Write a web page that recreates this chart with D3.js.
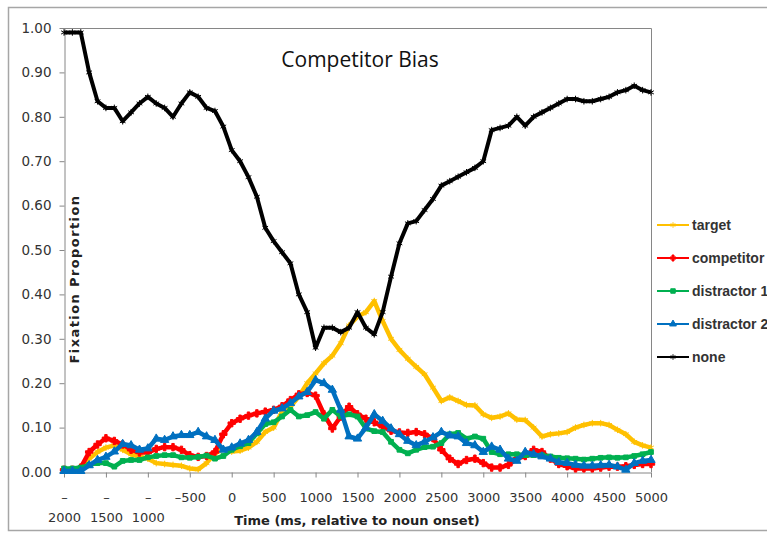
<!DOCTYPE html>
<html>
<head>
<meta charset="utf-8">
<script src="https://cdn.jsdelivr.net/npm/d3@7"></script>
<style>
body { margin: 0; background: #fff; }
svg { display: block; }
.axis text { font-family: "DejaVu Sans", Verdana, sans-serif; font-size: 13px; fill: #333; }
.axis path, .axis line { stroke: #868686; }
</style>
</head>
<body>
<svg id="chart" width="767" height="533"></svg>
<script>
// time axis, ms relative to noun onset
var times = [-2000,-1900,-1800,-1700,-1600,-1500,-1400,-1300,-1200,-1100,-1000,-900,-800,-700,-600,-500,-400,-300,-200,-100,
  0,100,200,300,400,500,600,700,800,900,1000,1100,1200,1300,1400,1500,1600,1700,1800,1900,
  2000,2100,2200,2300,2400,2500,2600,2700,2800,2900,3000,3100,3200,3300,3400,3500,3600,3700,3800,3900,
  4000,4100,4200,4300,4400,4500,4600,4700,4800,4900,5000];

var target = [0.005,0.005,0.008,0.03,0.045,0.055,0.06,0.05,0.04,0.035,0.03,0.02,0.018,0.016,0.014,0.008,0.006,0.02,0.042,0.052,
  0.046,0.048,0.055,0.068,0.09,0.1,0.136,0.147,0.17,0.2,0.222,0.245,0.262,0.29,0.33,0.35,0.36,0.385,0.34,0.3,
  0.275,0.255,0.237,0.22,0.19,0.16,0.168,0.16,0.151,0.15,0.13,0.122,0.125,0.132,0.118,0.117,0.1,0.08,0.085,0.087,
  0.09,0.1,0.106,0.11,0.11,0.106,0.095,0.085,0.068,0.06,0.055];

var competitor = [0.005,0.005,0.01,0.045,0.062,0.076,0.07,0.062,0.05,0.044,0.044,0.052,0.056,0.056,0.05,0.038,0.034,0.036,0.045,0.085,
  0.11,0.12,0.127,0.132,0.136,0.14,0.148,0.162,0.175,0.178,0.172,0.13,0.098,0.125,0.147,0.13,0.12,0.112,0.102,0.093,
  0.089,0.088,0.09,0.085,0.076,0.05,0.03,0.018,0.027,0.03,0.02,0.01,0.01,0.016,0.03,0.036,0.05,0.045,0.03,0.018,
  0.013,0.008,0.008,0.008,0.01,0.012,0.012,0.013,0.016,0.018,0.018];

var distractor1 = [0.008,0.008,0.01,0.016,0.02,0.02,0.012,0.025,0.027,0.027,0.033,0.036,0.038,0.038,0.033,0.032,0.034,0.037,0.03,0.036,
  0.05,0.058,0.065,0.087,0.108,0.112,0.125,0.14,0.125,0.128,0.135,0.12,0.14,0.125,0.13,0.125,0.098,0.092,0.09,0.068,
  0.05,0.042,0.05,0.056,0.057,0.065,0.085,0.088,0.075,0.08,0.075,0.045,0.04,0.04,0.04,0.038,0.038,0.038,0.035,0.032,
  0.031,0.03,0.028,0.03,0.032,0.033,0.032,0.033,0.036,0.04,0.045];

var distractor2 = [0.002,0.002,0.002,0.015,0.027,0.034,0.046,0.063,0.06,0.05,0.053,0.075,0.072,0.08,0.083,0.083,0.09,0.08,0.072,0.05,
  0.055,0.064,0.072,0.09,0.12,0.138,0.143,0.155,0.17,0.18,0.207,0.2,0.185,0.14,0.08,0.075,0.1,0.13,0.115,0.098,
  0.085,0.07,0.06,0.068,0.078,0.09,0.082,0.08,0.065,0.06,0.045,0.057,0.05,0.03,0.025,0.045,0.04,0.035,0.03,0.022,
  0.02,0.016,0.014,0.014,0.015,0.016,0.012,0.005,0.02,0.025,0.027];

var none = [0.99,0.99,0.99,0.9,0.835,0.82,0.82,0.79,0.81,0.83,0.845,0.83,0.82,0.8,0.83,0.855,0.845,0.82,0.813,0.778,
  0.725,0.7,0.664,0.62,0.55,0.52,0.495,0.47,0.4,0.36,0.28,0.325,0.325,0.315,0.325,0.36,0.325,0.31,0.36,0.44,
  0.515,0.56,0.565,0.59,0.615,0.645,0.655,0.665,0.675,0.685,0.7,0.77,0.775,0.78,0.8,0.78,0.8,0.81,0.82,0.83,
  0.84,0.84,0.835,0.835,0.84,0.845,0.855,0.86,0.87,0.86,0.855];

var seriesNames = ["target", "competitor", "distractor 1", "distractor 2", "none"];
var seriesColors = ["#FFC000", "#FF0000", "#00B050", "#0070C0", "#000000"];
var seriesValues = [target, competitor, distractor1, distractor2, none];
var seriesSymbols = [d3.symbolAsterisk, d3.symbolCross, d3.symbolSquare, d3.symbolTriangle, d3.symbolAsterisk];

var xTicks = [-2000,-1500,-1000,-500,0,500,1000,1500,2000,2500,3000,3500,4000,4500,5000];
var yTicks = [0,0.1,0.2,0.3,0.4,0.5,0.6,0.7,0.8,0.9,1.0];

var svg = d3.select("#chart");
// plot box (window.top is read-only, so no plain "top" here)
var pLeft = 64, pRight = 651, pTop = 28, pBottom = 472;

var x = d3.scaleLinear().domain([-2000, 5000]).range([pLeft, pRight]);
var y = d3.scaleLinear().domain([0, 1]).range([pBottom, pTop]);

// outer frame
svg.append("rect")
    .attr("x", 8.5).attr("y", 7.5)
    .attr("width", 800).attr("height", 523)
    .attr("fill", "none")
    .attr("stroke", "#a6a6a6")
    .attr("stroke-width", 1.5);

// plot area top and right border
svg.append("path")
    .attr("d", "M" + pLeft + "," + (pTop + 0.5) + "H" + (pRight + 0.5) + "V" + pBottom)
    .attr("fill", "none")
    .attr("stroke", "#868686");

// y axis
var yAxis = svg.append("g")
    .attr("class", "axis")
    .attr("transform", "translate(" + (pLeft + 0.5) + ",0)")
    .call(d3.axisLeft(y).tickValues(yTicks).tickFormat(d3.format(".2f")).tickSize(5).tickSizeOuter(0));
yAxis.selectAll("text").attr("x", -13).style("font-size", "13.5px");

// x axis
var xAxis = svg.append("g")
    .attr("class", "axis")
    .attr("transform", "translate(0," + (pBottom + 0.5) + ")")
    .call(d3.axisBottom(x).tickValues(xTicks).tickSize(5).tickSizeOuter(0).tickFormat(""));

xAxis.selectAll(".tick").each(function(d){
    var t = d3.select(this).append("text")
        .attr("fill", "#333")
        .attr("text-anchor", "middle")
        .attr("y", 29);
    if (d <= -1000) {
	// long negative labels wrap onto two lines
	t.append("tspan").attr("x", 0).text("\u2013");
	t.append("tspan").attr("x", 0).attr("dy", 20).text(String(-d));
    } else {
	t.text(d < 0 ? "\u2013" + (-d) : String(d));
    }
});

// axis titles
svg.append("text")
    .attr("x", 357).attr("y", 525)
    .attr("text-anchor", "middle")
    .style("font-family", "'DejaVu Sans', Verdana, sans-serif")
    .style("font-size", "13px")
    .style("font-weight", "bold")
    .style("fill", "#222")
    .text("Time (ms, relative to noun onset)");

svg.append("text")
    .attr("transform", "translate(79,279) rotate(-90)")
    .attr("text-anchor", "middle")
    .style("font-family", "'DejaVu Sans', Verdana, sans-serif")
    .style("font-size", "13px")
    .style("font-weight", "bold")
    .style("letter-spacing", "1.4px")
    .style("fill", "#222")
    .text("Fixation Proportion");

// chart title
svg.append("text")
    .attr("x", 360).attr("y", 67)
    .attr("text-anchor", "middle")
    .style("font-family", "'Open Sans', sans-serif")
    .style("font-size", "21px")
    .style("fill", "#111")
    .text("Competitor Bias");

// series
var line = d3.line()
    .x(function(d){ return x(d[0]); })
    .y(function(d){ return y(d[1]); });

seriesValues.forEach(function(vals, i){
    var pts = times.map(function(t, j){ return [t, vals[j]]; });
    var g = svg.append("g").attr("class", "series");
    g.append("path")
	.datum(pts)
	.attr("d", line)
	.attr("fill", "none")
	.attr("stroke", seriesColors[i])
	.attr("stroke-width", i == 4 ? 4 : 4.5)
	.attr("stroke-linejoin", "round");
    // small markers only roughen the line, as in the original
    g.selectAll(".mk")
	.data(pts)
	.enter().append("path")
	.attr("class", "mk")
	.attr("transform", function(d){ return "translate(" + x(d[0]) + "," + y(d[1]) + ")"; })
	.attr("d", d3.symbol().type(seriesSymbols[i]).size(i == 2 ? 22 : 30))
	.attr("fill", seriesColors[i])
	.attr("stroke", seriesColors[i])
	.attr("stroke-width", 1);
});

// legend
var legend = svg.append("g").attr("transform", "translate(657,225)");
seriesNames.forEach(function(name, i){
    var row = legend.append("g").attr("transform", "translate(0," + (i * 33) + ")");
    row.append("line")
	.attr("x1", 0).attr("x2", 32)
	.attr("stroke", seriesColors[i])
	.attr("stroke-width", 2);
    row.append("path")
	.attr("transform", "translate(16,0)")
	.attr("d", d3.symbol().type(seriesSymbols[i]).size(20))
	.attr("fill", seriesColors[i])
	.attr("stroke", seriesColors[i]);
    row.append("text")
	.attr("x", 35).attr("y", 5)
	.style("font-family", "'Liberation Sans', Arial, sans-serif")
	.style("font-size", "14px")
	.style("font-weight", "bold")
	.style("fill", "#333")
	.text(name);
});
</script>
</body>
</html>
